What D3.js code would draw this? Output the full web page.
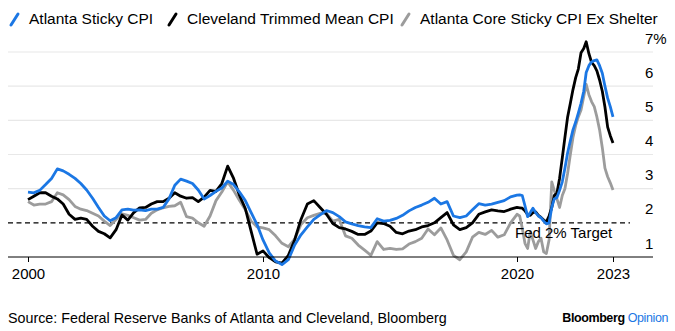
<!DOCTYPE html>
<html>
<head>
<meta charset="utf-8">
<script src="https://cdn.jsdelivr.net/npm/d3@7"></script>
<style>
  body { margin: 0; background: #fff; }
  svg { display: block; font-family: "Liberation Sans", Arial, sans-serif; }
</style>
</head>
<body>
<svg id="chart" width="675" height="331"></svg>
<script>
// sampling: quarterly 2000-2019, monthly 2020-01 .. 2023-01
const dates = d3.timeMonth.every(3).range(new Date(2000, 0, 1), new Date(2020, 0, 1))
  .concat(d3.timeMonth.range(new Date(2020, 0, 1), new Date(2023, 1, 1)));

const atlantaSticky = [
  2.90, 2.88, 2.95, 3.12, 3.30, 3.58, 3.52, 3.42, 3.30, 3.15, 2.96, 2.72, 2.45, 2.20, 2.06, 2.15, 2.38, 2.40, 2.37, 2.38,
  2.36, 2.40, 2.40, 2.45, 2.70, 3.10, 3.28, 3.22, 3.15, 2.96, 2.70, 2.80, 2.92, 3.02, 3.22, 3.12, 2.90, 2.65, 2.30, 1.95,
  1.50, 1.12, 0.88, 0.78, 0.92, 1.35, 1.65, 1.88, 2.10, 2.23, 2.36, 2.30, 2.18, 2.03, 1.97, 1.92, 1.88, 1.86, 2.12, 2.05,
  2.07, 2.13, 2.22, 2.35, 2.45, 2.52, 2.60, 2.72, 2.55, 2.62, 2.20, 2.15, 2.20, 2.38, 2.56, 2.52, 2.55, 2.60, 2.65, 2.76,
  2.81, 2.82, 2.80, 2.50, 2.18, 2.30, 2.43, 2.30, 2.20, 2.15, 2.05, 1.97, 2.00, 2.45, 2.70, 2.74, 2.95, 3.20, 3.60, 4.05,
  4.40, 4.72, 4.95, 5.21, 5.50, 5.85, 6.40, 6.60, 6.71, 6.75, 6.77, 6.60, 6.38, 6.00, 5.65, 5.40, 5.10
];
const clevelandTrimmed = [
  2.68, 2.78, 2.88, 2.88, 2.78, 2.70, 2.55, 2.25, 2.10, 2.14, 2.10, 1.90, 1.75, 1.68, 1.56, 1.80, 2.23, 2.08, 2.30, 2.44,
  2.45, 2.55, 2.62, 2.62, 2.72, 2.88, 2.78, 2.72, 2.74, 2.62, 2.75, 2.95, 2.92, 3.15, 3.66, 3.30, 2.80, 2.42, 1.75, 1.08,
  1.18, 0.98, 0.86, 0.82, 1.05, 1.50, 2.10, 2.55, 2.65, 2.45, 2.25, 1.98, 1.86, 1.82, 1.75, 1.66, 1.66, 1.76, 2.00, 1.98,
  1.90, 1.72, 1.68, 1.76, 1.80, 1.88, 1.92, 2.00, 2.15, 2.30, 1.94, 1.80, 1.86, 2.00, 2.25, 2.32, 2.38, 2.35, 2.33, 2.40,
  2.45, 2.44, 2.43, 2.35, 2.25, 2.22, 2.30, 2.32, 2.22, 2.16, 2.08, 2.03, 2.20, 2.45, 2.80, 2.87, 3.30, 3.90, 4.50, 5.10,
  5.50, 5.90, 6.25, 6.50, 6.98, 7.10, 7.30, 6.95, 6.70, 6.60, 6.45, 6.18, 5.85, 5.39, 4.80, 4.55, 4.34
];
const atlantaCoreExShelter = [
  2.62, 2.52, 2.55, 2.55, 2.62, 2.88, 2.82, 2.68, 2.48, 2.40, 2.36, 2.28, 2.20, 2.05, 1.92, 2.10, 2.26, 2.22, 2.15, 2.08,
  2.10, 2.28, 2.38, 2.44, 2.48, 2.50, 2.60, 2.18, 2.14, 2.00, 1.90, 2.20, 2.65, 2.90, 3.20, 2.95, 2.65, 2.38, 2.05, 1.88,
  1.85, 1.80, 1.62, 1.40, 1.30, 1.52, 1.95, 2.15, 2.22, 2.28, 2.28, 2.05, 2.10, 1.62, 1.55, 1.35, 1.20, 1.05, 1.45, 1.22,
  1.25, 1.22, 1.24, 1.38, 1.45, 1.55, 1.82, 1.65, 1.85, 1.50, 1.05, 0.92, 1.15, 1.58, 1.72, 1.66, 1.78, 1.58, 1.65, 2.00,
  2.25, 2.20, 1.85, 1.40, 1.25, 1.75, 1.50, 1.25, 1.45, 1.55, 1.15, 1.10, 1.50, 3.20, 2.95, 2.70, 2.45, 2.80, 3.00, 3.45,
  4.00, 4.50, 4.85, 5.10, 5.30, 5.70, 6.05, 5.75, 5.55, 5.40, 5.10, 4.72, 4.20, 3.60, 3.35, 3.17, 2.96
];

const seriesNames = ["Atlanta Sticky CPI", "Cleveland Trimmed Mean CPI", "Atlanta Core Sticky CPI Ex Shelter"];
const seriesColors = ["#1b77e4", "#000000", "#9c9c9c"];
const yTicks = [1, 2, 3, 4, 5, 6, 7];
const xTickYears = [2000, 2010, 2020, 2023];
const fedTarget = 2;

const svg = d3.select("#chart");
const plotLeft = 8, plotRight = 653;

// the x axis in the picture is not evenly spaced between the labelled years
const x = d3.scaleTime()
  .domain(xTickYears.map(y => new Date(y, 0, 1)))
  .range([28, 263, 517, 613]);
const y = d3.scaleLinear().domain([1, 7]).range([257, 52]);

// gridlines
svg.append("g")
  .selectAll("line")
  .data(yTicks.filter(d => d > 2))
  .join("line")
  .attr("x1", plotLeft)
  .attr("x2", plotRight)
  .attr("y1", d => y(d))
  .attr("y2", d => y(d))
  .attr("stroke", "#e8e8e8")
  .attr("stroke-width", 1.2);

// y labels sit above the lines at the right
svg.append("g")
  .selectAll("text")
  .data(yTicks)
  .join("text")
  .attr("x", 645)
  .attr("y", d => y(d) - 8.5)
  .attr("font-size", 15)
  .attr("fill", "#000")
  .text(d => d === 7 ? d + "%" : d);

// target line
svg.append("line")
  .attr("x1", plotLeft)
  .attr("x2", 630)
  .attr("y1", y(fedTarget))
  .attr("y2", y(fedTarget))
  .attr("stroke", "#000")
  .attr("stroke-width", 1.3)
  .attr("stroke-dasharray", "5,3.5");

// lines, grey first so the blue sits on top
const line = d3.line()
  .x((d, i) => x(dates[i]))
  .y(d => y(d));

const seriesValues = [atlantaSticky, clevelandTrimmed, atlantaCoreExShelter];
[2, 1, 0].forEach(i => {
  svg.append("path")
    .datum(seriesValues[i])
    .attr("fill", "none")
    .attr("stroke", seriesColors[i])
    .attr("stroke-width", 2.8)
    .attr("stroke-linejoin", "round")
    .attr("d", line);
});

svg.append("text")
  .attr("x", 515)
  .attr("y", 238)
  .attr("font-size", 15)
  .attr("fill", "#000")
  .text("Fed 2% Target");

// x axis
const axisX = d3.axisBottom(x)
  .tickValues(xTickYears.map(yr => new Date(yr, 0, 1)))
  .tickSize(5)
  .tickPadding(6)
  .tickFormat(d3.timeFormat("%Y"));

const gx = svg.append("g")
  .attr("transform", `translate(0,${y(1)})`)
  .call(axisX);
gx.select(".domain").remove();
gx.selectAll("line").attr("stroke", "#000");
gx.selectAll("text").attr("font-size", 15).attr("fill", "#000").attr("font-family", null);
svg.append("line")
  .attr("x1", plotLeft)
  .attr("x2", plotRight)
  .attr("y1", y(1))
  .attr("y2", y(1))
  .attr("stroke", "#000")
  .attr("stroke-width", 1);

// legend
const legendX = [10, 168, 401];
const legend = svg.append("g");
seriesNames.forEach((name, i) => {
  legend.append("line")
    .attr("x1", legendX[i] + 1)
    .attr("y1", 25)
    .attr("x2", legendX[i] + 8)
    .attr("y2", 14)
    .attr("stroke", seriesColors[i])
    .attr("stroke-width", 3)
    .attr("stroke-linecap", "round");
  legend.append("text")
    .attr("x", legendX[i] + 19)
    .attr("y", 24)
    .attr("font-size", 15.5)
    .attr("fill", "#000")
    .text(name);
});

// footer
svg.append("text")
  .attr("x", 8)
  .attr("y", 323)
  .attr("font-size", 14.3)
  .attr("fill", "#000")
  .text("Source: Federal Reserve Banks of Atlanta and Cleveland, Bloomberg");

const brand = svg.append("text")
  .attr("x", 668)
  .attr("y", 322)
  .attr("text-anchor", "end")
  .attr("font-size", 12.5)
  .attr("font-weight", "bold")
  .attr("letter-spacing", -0.4);
brand.append("tspan").attr("fill", "#000").text("Bloomberg ");
brand.append("tspan").attr("fill", "#1b77e4").attr("font-weight", "normal").text("Opinion");
</script>
</body>
</html>
